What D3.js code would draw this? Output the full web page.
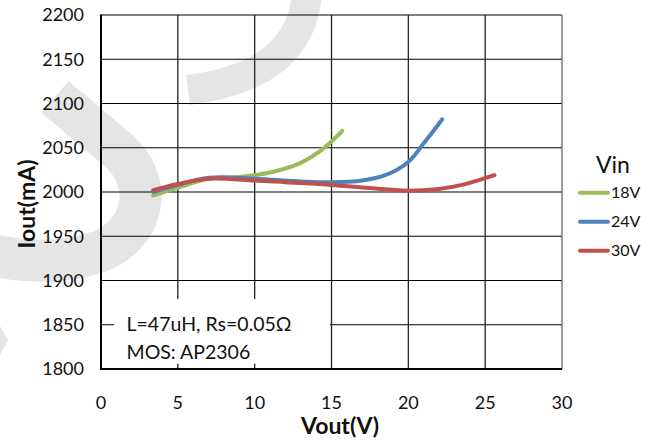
<!DOCTYPE html>
<html>
<head>
<meta charset="utf-8">
<script src="https://cdn.jsdelivr.net/npm/d3@7"></script>
<style>
  html, body { margin: 0; padding: 0; background: #fff; }
  svg { display: block; font-family: Lato, "Open Sans", sans-serif; }
</style>
</head>
<body>
<svg id="chart" width="653" height="441"></svg>
<script>
// Output current vs output voltage for three input voltages
const xTicks = [0, 5, 10, 15, 20, 25, 30];
const yTicks = [1800, 1850, 1900, 1950, 2000, 2050, 2100, 2150, 2200];

const seriesNames = ["18V", "24V", "30V"];
const seriesColors = ["#9BBB59", "#4F81BD", "#C0504D"];

// [Vout (V), Iout (mA)]
const vin18 = [[3.4, 1996], [5, 2005], [7, 2015], [9, 2017], [11, 2022], [13, 2033], [14, 2043], [15, 2057], [15.7, 2069]];
const vin24 = [[3.4, 2000], [5, 2008], [7, 2016], [10, 2015], [13, 2012], [15, 2011], [17, 2013], [18.5, 2019], [20, 2034], [21, 2055], [22.2, 2082]];
const vin30 = [[3.4, 2002], [5, 2009], [7, 2015], [10, 2013], [12, 2011], [15, 2008], [17, 2005], [18.5, 2003], [20, 2001.5], [22, 2003.5], [23.5, 2008], [25.6, 2019]];

const noteLines = ["L=47uH, Rs=0.05\u03A9", "MOS: AP2306"];

const svg = d3.select("#chart");
const margin = { left: 101, top: 15, right: 91, bottom: 72 };
const W = 653, H = 441;
const pw = W - margin.left - margin.right;
const ph = H - margin.top - margin.bottom;

const x = d3.scaleLinear().domain([0, 30]).range([margin.left, margin.left + pw]);
const y = d3.scaleLinear().domain([1800, 2200]).range([margin.top + ph, margin.top]);

// faint background logo
const wm = svg.append("g").attr("fill", "none").attr("stroke", "#e5e5e5");
wm.append("path").attr("d", "M 307,-5 C 302,45 268,80 188,90").attr("stroke-width", 30);
wm.append("path").attr("d", "M 55,97 L 118,150 C 155,182 145,235 98,252 C 62,264 22,262 -12,254").attr("stroke-width", 42);
svg.append("path").attr("d", "M 0,326 L 8,340 L 0,355 Z").attr("fill", "#e5e5e5");

// gridlines
const grid = svg.append("g");
grid.selectAll("line.h").data(yTicks.slice(1)).join("line")
  .attr("x1", x(0)).attr("x2", x(30))
  .attr("y1", d => y(d)).attr("y2", d => y(d))
  .attr("stroke", "#000").attr("stroke-width", 1.2);
grid.selectAll("line.v").data(xTicks.slice(1)).join("line")
  .attr("x1", d => x(d)).attr("x2", d => x(d))
  .attr("y1", y(1800)).attr("y2", y(2200))
  .attr("stroke", d => d === 30 ? "#666" : "#222").attr("stroke-width", 1.3);

// annotation box
const boxX0 = 0.85, boxX1 = 14.9, boxY0 = 1806, boxY1 = 1879;
svg.append("rect")
  .attr("x", x(boxX0)).attr("y", y(boxY1))
  .attr("width", x(boxX1) - x(boxX0)).attr("height", y(boxY0) - y(boxY1))
  .attr("fill", "#fff");
svg.selectAll("text.note").data(noteLines).join("text")
  .attr("class", "note")
  .attr("x", x(boxX0) + 12.5)
  .attr("y", (d, i) => 331 + i * 27.5)
  .attr("font-size", 19.5).attr("fill", "#111")
  .text(d => d);

// axes lines
svg.append("line").attr("x1", x(0)).attr("x2", x(0)).attr("y1", y(1800) + 1).attr("y2", y(2200) - 0.5)
  .attr("stroke", "#000").attr("stroke-width", 2);
svg.append("line").attr("x1", x(0) - 1).attr("x2", x(30)).attr("y1", y(1800)).attr("y2", y(1800))
  .attr("stroke", "#000").attr("stroke-width", 2);

// tick labels
svg.selectAll("text.yt").data(yTicks).join("text")
  .attr("x", 84).attr("y", d => y(d)).attr("dy", "0.36em")
  .attr("text-anchor", "end").attr("font-size", 18).attr("fill", "#111")
  .text(d => d);
svg.selectAll("text.xt").data(xTicks).join("text")
  .attr("x", d => x(d)).attr("y", 409)
  .attr("text-anchor", "middle").attr("font-size", 18).attr("fill", "#111")
  .text(d => d);

// axis titles
svg.append("text").attr("x", 340).attr("y", 434).attr("text-anchor", "middle")
  .attr("font-size", 23).attr("font-weight", "bold").attr("fill", "#111").text("Vout(V)");
svg.append("text").attr("transform", "translate(35,204) rotate(-90)").attr("text-anchor", "middle")
  .attr("font-size", 23).attr("font-weight", "bold").attr("fill", "#111").text("Iout(mA)");

// series
const line = d3.line().x(d => x(d[0])).y(d => y(d[1])).curve(d3.curveCatmullRom.alpha(0.5));
const allSeries = [vin18, vin24, vin30];
svg.selectAll("path.series").data(allSeries).join("path")
  .attr("class", "series")
  .attr("d", line)
  .attr("fill", "none")
  .attr("stroke", (d, i) => seriesColors[i])
  .attr("stroke-width", 4)
  .attr("stroke-linecap", "round").attr("stroke-linejoin", "round");

// legend
const lg = svg.append("g");
lg.append("text").attr("x", 613).attr("y", 173).attr("text-anchor", "middle")
  .attr("font-size", 23).attr("fill", "#111").text("Vin");
const items = lg.selectAll("g.item").data(seriesNames).join("g")
  .attr("transform", (d, i) => `translate(0,${192.7 + i * 29})`);
items.append("line").attr("x1", 580).attr("x2", 608).attr("y1", 0).attr("y2", 0)
  .attr("stroke", (d, i) => seriesColors[i]).attr("stroke-width", 4).attr("stroke-linecap", "round");
items.append("text").attr("x", 611).attr("y", 0).attr("dy", "0.36em")
  .attr("font-size", 16).attr("fill", "#111").text(d => d);
</script>
</body>
</html>
